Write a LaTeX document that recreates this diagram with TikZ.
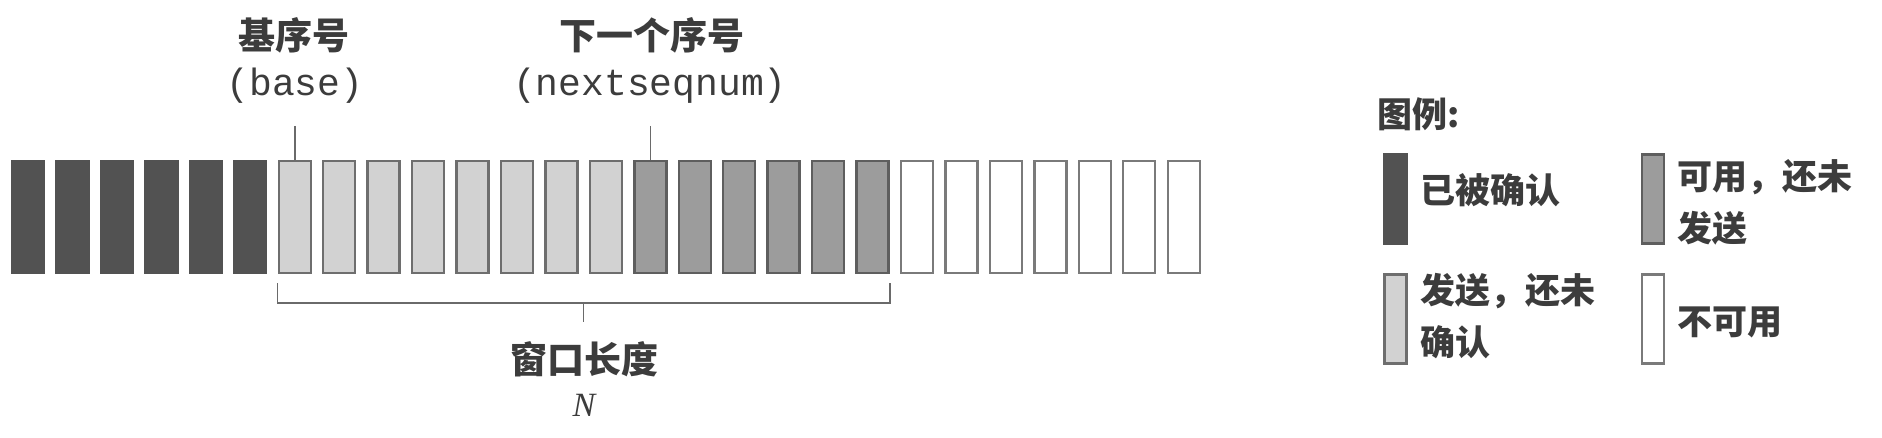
\documentclass[tikz,border=0pt]{standalone}
\usepackage{fontspec}
\setmainfont{Liberation Serif}
\setmonofont{Liberation Mono}
\newfontfamily\cjk{Noto Sans CJK SC}
\usetikzlibrary{calc}
\definecolor{ackf}{HTML}{525252}
\definecolor{sentf}{HTML}{D2D2D2}
\definecolor{sentd}{HTML}{6E6E6E}
\definecolor{usef}{HTML}{9C9C9C}
\definecolor{used}{HTML}{5E5E5E}
\definecolor{freed}{HTML}{7A7A7A}
\definecolor{txt}{HTML}{3C3C3C}
\definecolor{ln}{HTML}{6A6A6A}
\begin{document}
\begin{tikzpicture}[x=0.5pt,y=-0.5pt,
  slot/.style={rectangle, minimum width=16pt, minimum height=56pt, inner sep=0pt, line width=1.2pt},
  lgslot/.style={rectangle, minimum width=11pt, minimum height=44.5pt, inner sep=0pt, line width=1.2pt},
  ackbox/.style={fill=ackf, draw=ackf},
  sentbox/.style={fill=sentf, draw=sentd},
  usebox/.style={fill=usef, draw=used},
  freebox/.style={fill=white, draw=freed},
  conn/.style={draw=ln, line width=0.8pt},
  cjklbl/.style={text=txt, inner sep=0pt, font=\cjk\bfseries\fontsize{18.5}{26}\selectfont},
  monolbl/.style={text=txt, inner sep=0pt, font=\ttfamily\fontsize{19}{22}\selectfont},
  lgtext/.style={text=txt, inner sep=0pt, font=\cjk\bfseries\fontsize{17.5}{26}\selectfont, anchor=west, align=left}
]
\useasboundingbox (0,0) rectangle (1882,438);
% slots
\foreach \i in {0,...,5}   {\node[slot,ackbox]  (b\i) at ({28+44.45*\i},217) {};}
\foreach \i in {6,...,13}  {\node[slot,sentbox] (b\i) at ({28+44.45*\i},217) {};}
\foreach \i in {14,...,19} {\node[slot,usebox]  (b\i) at ({28+44.45*\i},217) {};}
\foreach \i in {20,...,26} {\node[slot,freebox] (b\i) at ({28+44.45*\i},217) {};}
% top labels
\node[cjklbl]  (basecn) at (294,35) {基序号};
\node[monolbl] (baseen) at (295,86) {(base)};
\node[cjklbl]  (nextcn) at (652,35) {下一个序号};
\node[monolbl] (nexten) at (650,86) {(nextseqnum)};
\coordinate (ytop) at (0,126);
\coordinate (lb) at (b6.north |- ytop);
\coordinate (ln) at (b14.north |- ytop);
\draw[conn] (lb) -- (b6.north);
\draw[conn] (ln) -- (b14.north);
% bracket
\coordinate (bl) at ([yshift=-4.5pt]b6.south west);
\coordinate (br) at ([yshift=-4.5pt]b19.south east);
\coordinate (bm) at ($(bl)!0.5!(br)+(0,20)$);
\coordinate (bt) at ($(bm)+(0,19)$);
\draw[conn] (bl) -- ++(0,20) -| (br);
\draw[conn] (bm) -- (bt);
\node[cjklbl] (win) at (584,359) {窗口长度};
\node[text=txt, inner sep=0pt, font=\itshape\fontsize{17}{20}\selectfont] (nn) at (584,405) {N};
% legend
\node[lgtext] (lgt) at (1377,114) {图例:};
\node[lgslot,ackbox]  (l1) at (1395.5,199) {};
\node[lgslot,usebox]  (l2) at (1653,199) {};
\node[lgslot,sentbox] (l3) at (1395.5,319) {};
\node[lgslot,freebox] (l4) at (1653,319) {};
\node[lgtext] (t1) at (1420,190) {已被确认};
\node[lgtext] (t2) at (1677,202) {可用，还未\\发送};
\node[lgtext] (t3) at (1420,316) {发送，还未\\确认};
\node[lgtext] (t4) at (1677,322) {不可用};
\end{tikzpicture}
\end{document}
